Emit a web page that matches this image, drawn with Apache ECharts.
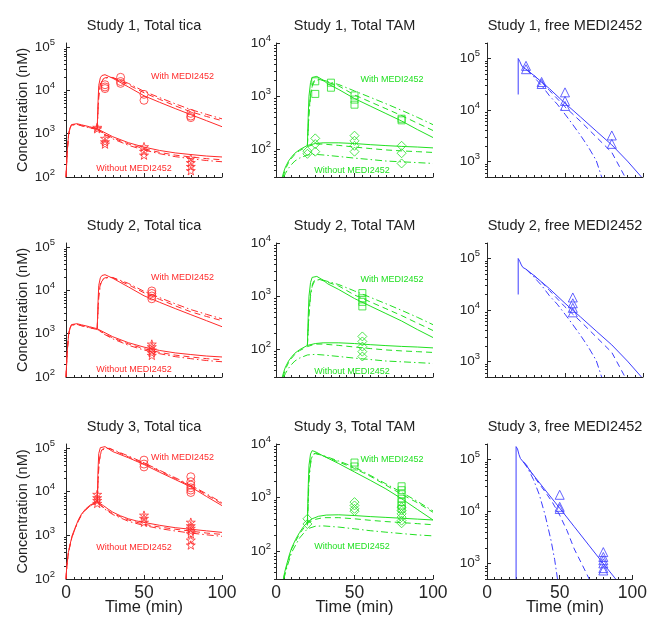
<!DOCTYPE html>
<html><head><meta charset="utf-8">
<script src="https://cdn.jsdelivr.net/npm/echarts@6/dist/echarts.min.js"></script>
<style>html,body{margin:0;padding:0;background:#fff}#c{width:650px;height:617px}</style>
</head><body><div id="c"></div>
<script>
// ---------------- DATA ----------------
// Column 1: Total tica — model curves, Studies 1 & 2
const tica12_wo_solid = [[0,100],[0.5,250],[1,500],[1.7,1000],[2.5,1350],[3.5,1620],[4.5,1750],[7,1700],[10,1600],[15,1450],[20,1300],[25,1050],[30,850],[40,620],[50,490],[60,410],[70,360],[80,330],[90,305],[100,290]];
const tica12_wo_dash = [[0,100],[0.5,240],[1,480],[1.7,960],[2.5,1300],[3.5,1580],[4.5,1700],[7,1650],[10,1530],[15,1380],[20,1260],[25,980],[30,800],[40,580],[50,450],[60,370],[70,320],[80,290],[90,265],[100,250]];
const tica12_wo_dashdot = [[0,100],[0.5,230],[1,470],[1.7,950],[2.5,1290],[3.5,1570],[4.5,1700],[7,1640],[10,1520],[15,1370],[20,1250],[25,950],[30,760],[40,540],[50,420],[60,345],[70,295],[80,265],[90,240],[100,225]];
const tica12_w_solid = [[20,1300],[20.5,5000],[21,13000],[22,19500],[23,22000],[25,23000],[30,19000],[40,12000],[50,7500],[60,5300],[70,3800],[80,2750],[90,2000],[100,1450]];
const tica12_w_dash = [[20,1300],[20.5,3500],[21,8000],[22,14000],[23,17500],[25,19500],[28,20000],[30,19500],[40,13500],[50,8800],[60,6200],[70,4400],[80,3200],[90,2500],[100,2000]];
const tica12_w_dashdot = [[20,1300],[20.5,3000],[21,7000],[22,13000],[23,16500],[25,19000],[28,20000],[30,19800],[40,14500],[50,9500],[60,6800],[70,4900],[80,3600],[90,2800],[100,2200]];
const tica1_with_obs = [[25,13500],[25,12000],[25,11000],[35,20000],[35,16000],[35,14500],[50,8100],[50,5900],[80,2950],[80,2550],[80,2350]];
const tica1_without_obs = [[20,1400],[20,1300],[25,780],[25,650],[25,575],[50,500],[50,390],[50,320],[80,270],[80,215],[80,175],[80,140]];
const tica2_with_obs = [[55,9700],[55,8500],[55,7400],[55,6400]];
const tica2_without_obs = [[55,575],[55,500],[55,420],[55,365],[55,316]];

// Column 2: Total TAM — model curves, Studies 1 & 2
const tam12_wo_solid = [[4,30],[5,38],[6,46],[8,60],[10,72],[12,84],[15,98],[20,118],[25,128],[30,132],[40,132],[50,128],[60,122],[70,117],[80,113],[90,110],[100,106]];
const tam12_wo_dash = [[4.5,30],[6,42],[8,56],[10,68],[12,80],[15,94],[20,112],[25,125],[30,125],[40,118],[50,110],[60,103],[70,97],[80,93],[90,90],[100,87]];
const tam12_wo_dashdot = [[5,30],[6,35],[8,44],[10,52],[12,60],[15,68],[20,78],[25,80],[30,78],[40,73],[50,68],[60,64],[70,60],[80,58],[90,56],[100,54]];
const tam12_w_solid = [[20,118],[20.5,400],[21,1000],[22,1800],[23,2250],[24,2400],[26,2350],[30,2000],[33,1700],[40,1330],[50,900],[60,650],[70,470],[80,340],[90,235],[100,166]];
const tam12_w_dash = [[20,118],[21,500],[22,1100],[23,1600],[24,1900],[26,2050],[28,2050],[30,1950],[40,1550],[50,1050],[60,780],[70,580],[80,430],[90,310],[100,225]];
const tam12_w_dashdot = [[20,118],[21,450],[22,1000],[23,1500],[24,1800],[26,2000],[28,2050],[30,2000],[40,1650],[50,1250],[60,950],[70,720],[80,540],[90,400],[100,290]];
const tam1_with_obs = [[25,1900],[25,1100],[35,1790],[35,1440],[50,1030],[50,860],[50,690],[80,375],[80,350]];
const tam1_without_obs = [[20,92],[20,82],[25,160],[25,125],[25,90],[50,180],[50,144],[50,116],[50,90],[80,116],[80,84],[80,54]];
const tam2_with_obs = [[55,1140],[55,910],[55,780],[55,640]];
const tam2_without_obs = [[55,174],[55,140],[55,112],[55,90],[55,73]];

// Column 3: free MEDI2452 — model curves, Studies 1 & 2
const free12_solid = [[20,20000],[20,100000],[21,88000],[22,75000],[23,67000],[25,62000],[30,47000],[35,35000],[40,26000],[50,13500],[60,7300],[70,3900],[80,2100],[90,1020],[99,500]];
const free12_dash = [[30,47000],[35,35000],[40,24000],[50,11500],[60,6000],[70,3000],[80,1500],[88.5,500]];
const free12_dashdot = [[25,62000],[30,44000],[35,30000],[40,19000],[45,13000],[50,8300],[55,5200],[60,3200],[65,1900],[70,1050],[73.5,500]];
const free1_obs = [[25,72000],[25,62000],[35,35000],[35,32000],[50,22000],[50,15000],[50,12000],[80,3200],[80,2200]];
const free2_obs = [[55,17500],[55,13500],[55,11000],[55,9000]];

// Study 3
const tica3_wo_solid = [[0,100],[0.4,175],[0.8,250],[1.5,400],[2.5,600],[4,1000],[5.7,1450],[8,2300],[10,3100],[12.5,4000],[15.3,4900],[18,5500],[20,5900],[22,5300],[24,4800],[27,4000],[30,3400],[35,2800],[40,2400],[45,2150],[50,1980],[60,1700],[70,1500],[80,1380],[90,1270],[100,1170]];
const tica3_wo_dash = [[0,100],[0.4,170],[0.8,240],[1.5,390],[2.5,580],[4,960],[5.7,1400],[8,2200],[10,3000],[12.5,3850],[15.3,4700],[18,5300],[20,5700],[22,5000],[25,4100],[30,3150],[40,2250],[50,1800],[60,1550],[70,1380],[80,1250],[90,1130],[100,1050]];
const tica3_wo_dashdot = [[0,100],[0.4,165],[0.8,235],[1.5,380],[2.5,570],[4,940],[5.7,1380],[8,2150],[10,2950],[12.5,3800],[15.3,4650],[18,5250],[20,5600],[22,4900],[25,3950],[30,3000],[40,2100],[50,1680],[60,1430],[70,1260],[80,1130],[90,1030],[100,950]];
const tica3_w_solid = [[20,5900],[20.5,30000],[21,75000],[22,102000],[23,112000],[25,108000],[30,83000],[40,60000],[50,42000],[60,28000],[70,19000],[80,12900],[90,7800],[100,4800]];
const tica3_w_dash = [[20,5700],[21,40000],[22,75000],[23,92000],[25,100000],[28,98000],[30,90000],[40,63000],[50,44000],[60,30000],[70,20000],[80,13500],[90,8500],[100,5300]];
const tica3_w_dashdot = [[20,5600],[21,35000],[22,70000],[23,88000],[25,97000],[28,98000],[30,92000],[40,66000],[50,46000],[60,31000],[70,21000],[80,14000],[90,9000],[100,5600]];
const tica3_with_obs = [[50,53000],[50,43000],[50,37000],[80,22000],[80,17000],[80,14200],[80,12300],[80,10900],[80,9600]];
const tica3_without_obs = [[20,8700],[20,7300],[20,6300],[20,5400],[50,2900],[50,2450],[50,2000],[80,2000],[80,1660],[80,1450],[80,1260],[80,1090],[80,780],[80,600]];

const tam3_wo_solid = [[4.7,30],[5.5,40],[6.8,56],[8.5,85],[10,115],[12.5,165],[15,222],[17.5,285],[20,345],[23,400],[27,445],[32,470],[40,475],[50,460],[60,440],[70,425],[80,410],[90,395],[100,380]];
const tam3_wo_dash = [[4.7,30],[7,55],[10,110],[15,210],[20,330],[25,390],[30,420],[40,420],[50,400],[60,375],[70,355],[80,340],[90,325],[100,310]];
const tam3_wo_dashdot = [[5,30],[7,50],[10,95],[15,175],[20,260],[25,290],[30,295],[40,280],[50,260],[60,240],[70,225],[80,212],[90,200],[100,192]];
const tam3_w_solid = [[20,345],[20.5,1500],[21,4000],[22,6500],[23,7500],[25,7200],[30,6000],[40,4300],[50,3000],[60,2100],[70,1450],[80,950],[90,600],[100,380]];
const tam3_w_dash = [[20,330],[21,2500],[22,4800],[23,6200],[25,6800],[30,6000],[40,4600],[50,3500],[60,2500],[70,1700],[80,1150],[90,800],[100,530]];
const tam3_w_dashdot = [[20,300],[21,2000],[22,4200],[23,5800],[25,6600],[30,6100],[40,4800],[50,3700],[60,2600],[70,1800],[80,1250],[90,850],[100,560]];
const tam3_with_obs = [[50,4500],[50,3800],[80,1620],[80,1370],[80,1150],[80,950],[80,820],[80,710],[80,615]];
const tam3_without_obs = [[20,400],[20,320],[50,820],[50,710],[50,615],[50,555],[80,660],[80,570],[80,495],[80,430],[80,370],[80,330]];

const free3_solid = [[20,500],[20,178000],[21,160000],[22,125000],[23,105000],[25,90000],[27,78000],[30,59000],[40,26000],[50,11600],[60,5100],[70,2250],[80,990],[88.5,500]];
const free3_dash = [[25,90000],[27,80000],[30,59000],[35,37000],[40,24000],[45,15000],[50,8500],[55,4300],[60,1900],[65,1000],[70.3,500]];
const free3_dashdot = [[25,90000],[28,68000],[32,41000],[36,21000],[40,8500],[44,2800],[46.5,1200],[48.5,500]];
const free3_obs = [[50,21000],[50,12300],[50,11200],[80,1650],[80,1330],[80,1150],[80,1000],[80,810],[80,730]];

// Text
const PANEL_TITLES = [
  'Study 1, Total tica','Study 1, Total TAM','Study 1, free MEDI2452',
  'Study 2, Total tica','Study 2, Total TAM','Study 2, free MEDI2452',
  'Study 3, Total tica','Study 3, Total TAM','Study 3, free MEDI2452'];
const Y_TITLE = 'Concentration (nM)';
const X_TITLE = 'Time (min)';
const X_TICKS = [0, 50, 100];
const Y_MAJOR = [[100,1000,10000,100000],[100,1000,10000],[1000,10000,100000]];

// ---------------- STYLE / LAYOUT ----------------
const RED='#ff2b2b', GREEN='#22e022', BLUE='#3d3dff', AX='#262626';
const FONT='"Liberation Sans", Arial, Helvetica, sans-serif';
const GRID_LEFT=[66,276,487], GRID_W=[156,157,156];
const GRID_TOP=[43,243,444], GRID_H=[134,134,135];
const Y_MIN=[100,30,500], Y_MAX=[124000,10000,200000];
const LABEL_MARGIN=[11,5,7];
const DASH=[6,4], DASHDOT=[7,3,1.5,3];
const STAR='path://M50 0 L61.23 34.55 L97.55 34.55 L68.17 55.9 L79.39 90.45 L50 69.1 L20.61 90.45 L31.83 55.9 L2.45 34.55 L38.77 34.55 Z';

function minorValues(min, max){
  const out=[];
  for(let e=0;e<7;e++){ for(let m=2;m<=9;m++){ const v=m*Math.pow(10,e); if(v>=min-1e-9 && v<=max+1e-9) out.push(v);} }
  return out;
}

function L(data,color,type){return {data,color,type};}
function O(data,color,symbol,size){return {data,color,symbol,size};}

const panels = [
  // row 1
  {lines:[L(tica12_wo_solid,RED,'solid'),L(tica12_wo_dash,RED,DASH),L(tica12_wo_dashdot,RED,DASHDOT),L(tica12_w_solid,RED,'solid'),L(tica12_w_dash,RED,DASH),L(tica12_w_dashdot,RED,DASHDOT)],
   obs:[O(tica1_with_obs,RED,'circle',8),O(tica1_without_obs,RED,STAR,9)]},
  {lines:[L(tam12_wo_solid,GREEN,'solid'),L(tam12_wo_dash,GREEN,DASH),L(tam12_wo_dashdot,GREEN,DASHDOT),L(tam12_w_solid,GREEN,'solid'),L(tam12_w_dash,GREEN,DASH),L(tam12_w_dashdot,GREEN,DASHDOT)],
   obs:[O(tam1_with_obs,GREEN,'rect',7),O(tam1_without_obs,GREEN,'diamond',9)]},
  {lines:[L(free12_solid,BLUE,'solid'),L(free12_dash,BLUE,DASH),L(free12_dashdot,BLUE,DASHDOT)],
   obs:[O(free1_obs,BLUE,'triangle',9)]},
  // row 2
  {lines:[L(tica12_wo_solid,RED,'solid'),L(tica12_wo_dash,RED,DASH),L(tica12_wo_dashdot,RED,DASHDOT),L(tica12_w_solid,RED,'solid'),L(tica12_w_dash,RED,DASH),L(tica12_w_dashdot,RED,DASHDOT)],
   obs:[O(tica2_with_obs,RED,'circle',8),O(tica2_without_obs,RED,STAR,9)]},
  {lines:[L(tam12_wo_solid,GREEN,'solid'),L(tam12_wo_dash,GREEN,DASH),L(tam12_wo_dashdot,GREEN,DASHDOT),L(tam12_w_solid,GREEN,'solid'),L(tam12_w_dash,GREEN,DASH),L(tam12_w_dashdot,GREEN,DASHDOT)],
   obs:[O(tam2_with_obs,GREEN,'rect',7),O(tam2_without_obs,GREEN,'diamond',9)]},
  {lines:[L(free12_solid,BLUE,'solid'),L(free12_dash,BLUE,DASH),L(free12_dashdot,BLUE,DASHDOT)],
   obs:[O(free2_obs,BLUE,'triangle',9)]},
  // row 3
  {lines:[L(tica3_wo_solid,RED,'solid'),L(tica3_wo_dash,RED,DASH),L(tica3_wo_dashdot,RED,DASHDOT),L(tica3_w_solid,RED,'solid'),L(tica3_w_dash,RED,DASH),L(tica3_w_dashdot,RED,DASHDOT)],
   obs:[O(tica3_with_obs,RED,'circle',8),O(tica3_without_obs,RED,STAR,9)]},
  {lines:[L(tam3_wo_solid,GREEN,'solid'),L(tam3_wo_dash,GREEN,DASH),L(tam3_wo_dashdot,GREEN,DASHDOT),L(tam3_w_solid,GREEN,'solid'),L(tam3_w_dash,GREEN,DASH),L(tam3_w_dashdot,GREEN,DASHDOT)],
   obs:[O(tam3_with_obs,GREEN,'rect',7),O(tam3_without_obs,GREEN,'diamond',9)]},
  {lines:[L(free3_solid,BLUE,'solid'),L(free3_dash,BLUE,DASH),L(free3_dashdot,BLUE,DASHDOT)],
   obs:[O(free3_obs,BLUE,'triangle',9)]}
];

function powLabel(v){
  const lg=Math.log10(v), e=Math.round(lg);
  if(Math.abs(lg-e)>1e-6) return '';
  return '{b|10}{s|'+e+'}';
}

const grids=[], xAxes=[], yAxes=[], series=[], graphics=[];
for(let r=0;r<3;r++){
  for(let c=0;c<3;c++){
    const g=r*3+c;
    grids.push({left:GRID_LEFT[c], top:GRID_TOP[r], width:GRID_W[c], height:GRID_H[r], containLabel:false});
    xAxes.push({type:'value', gridIndex:g, min:0, max:100, interval:50,
      axisLine:{show:true, onZero:false, lineStyle:{color:AX,width:1}},
      axisTick:{show:true, inside:true, length:4, lineStyle:{color:AX}, customValues:X_TICKS},
      minorTick:{show:true, splitNumber:10, length:2, lineStyle:{color:AX}},
      splitLine:{show:false}, minorSplitLine:{show:false},
      axisLabel:{show:r===2, color:AX, fontFamily:FONT, fontSize:17.5, margin:5, customValues:X_TICKS}});
  }
}
// main y axes
for(let g=0;g<9;g++){
  const c=g%3;
  yAxes.push({type:'log', logBase:10, gridIndex:g, min:Y_MIN[c], max:Y_MAX[c],
    axisLine:{show:true, onZero:false, lineStyle:{color:AX,width:1}},
    axisTick:{show:true, inside:true, length:4, lineStyle:{color:AX}, customValues:Y_MAJOR[c]},
    splitLine:{show:false},
    axisLabel:{show:true, margin:LABEL_MARGIN[c], customValues:Y_MAJOR[c], formatter:powLabel,
      rich:{b:{fontSize:13.5,fontFamily:FONT,color:AX,lineHeight:20},
            s:{fontSize:9.5,fontFamily:FONT,color:AX,lineHeight:10,verticalAlign:'top'}}}});
}
// minor-tick y axes (overlaid)
for(let g=0;g<9;g++){
  const c=g%3;
  yAxes.push({type:'log', logBase:10, gridIndex:g, min:Y_MIN[c], max:Y_MAX[c],
    axisLine:{show:false}, splitLine:{show:false}, axisLabel:{show:false},
    axisTick:{show:true, inside:true, length:2, lineStyle:{color:AX}, customValues:minorValues(Y_MIN[c],Y_MAX[c])}});
}

panels.forEach((p,g)=>{
  p.lines.forEach(l=>{
    series.push({type:'line', xAxisIndex:g, yAxisIndex:g, data:l.data, symbol:'none', showSymbol:false,
      silent:true, clip:true, z:2, lineStyle:{color:l.color, width:1, type:l.type}});
  });
  p.obs.forEach(o=>{
    series.push({type:'scatter', xAxisIndex:g, yAxisIndex:g, data:o.data, symbol:o.symbol, symbolSize:o.size,
      symbolKeepAspect:true, silent:true, z:3,
      itemStyle:{color:'rgba(0,0,0,0)', borderColor:o.color, borderWidth:1}});
  });
});

// titles
for(let r=0;r<3;r++) for(let c=0;c<3;c++){
  graphics.push({type:'text', x:GRID_LEFT[c]+GRID_W[c]/2, y:GRID_TOP[r]-17,
    style:{text:PANEL_TITLES[r*3+c], fill:'#222', font:'14.5px '+FONT, textAlign:'center', textVerticalAlign:'middle', align:'center', verticalAlign:'middle'}});
}
// y titles
for(let r=0;r<3;r++){
  graphics.push({type:'text', x:23, y:GRID_TOP[r]+GRID_H[r]/2, rotation:Math.PI/2,
    style:{text:Y_TITLE, fill:'#222', font:'14.5px '+FONT, textAlign:'center', textVerticalAlign:'middle', align:'center', verticalAlign:'middle'}});
}
// x titles
for(let c=0;c<3;c++){
  graphics.push({type:'text', x:GRID_LEFT[c]+GRID_W[c]/2, y:607,
    style:{text:X_TITLE, fill:'#222', font:'16.5px '+FONT, textAlign:'center', textVerticalAlign:'middle', align:'center', verticalAlign:'middle'}});
}
// annotations
const ANN = [
  {t:'With MEDI2452', c:RED, x:182.5, y:[77,278,458]},
  {t:'Without MEDI2452', c:RED, x:134, y:[169,370,548]},
  {t:'With MEDI2452', c:GREEN, x:392, y:[80,280,460]},
  {t:'Without MEDI2452', c:GREEN, x:352, y:[171,372,547]}
];
ANN.forEach(a=>a.y.forEach(yy=>{
  graphics.push({type:'text', x:a.x, y:yy,
    style:{text:a.t, fill:a.c, font:'9px '+FONT, textAlign:'center', textVerticalAlign:'middle', align:'center', verticalAlign:'middle'}});
}));

const chart=echarts.init(document.getElementById('c'),null,{renderer:'canvas'});
chart.setOption({animation:false, backgroundColor:'#fff', grid:grids, xAxis:xAxes, yAxis:yAxes, series, graphic:graphics});
</script></body></html>
